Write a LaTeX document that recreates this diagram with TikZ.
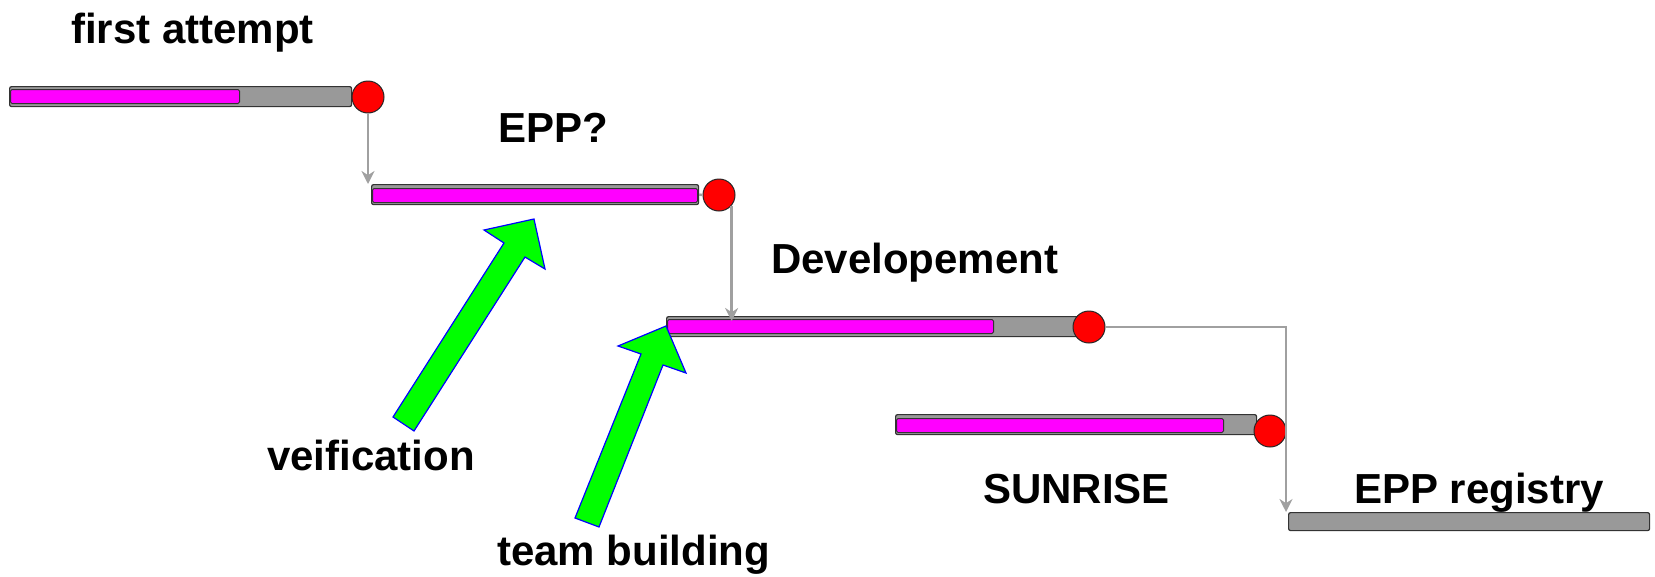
\documentclass[tikz,border=0pt]{standalone}
\usepackage{fontspec}
\setmainfont{Liberation Sans}
\usetikzlibrary{arrows.meta}
\definecolor{bargray}{HTML}{999999}
\definecolor{linegray}{HTML}{A0A0A0}
\definecolor{magbar}{HTML}{FF00FF}
\definecolor{greenarr}{HTML}{00FF00}
\tikzset{
  barbox/.style={draw=black!80, line width=1.2pt, fill=bargray, rounded corners=2pt, anchor=north west, inner sep=0pt, minimum height=20pt},
  magbox/.style={draw=black!80, line width=1pt, fill=magbar, rounded corners=1.5pt, anchor=north west, inner sep=0pt, minimum height=14pt},
  dot/.style={circle, draw=black!85, line width=1pt, fill=red, inner sep=0pt, minimum size=32pt},
  conn/.style={draw=linegray, line width=2.5pt, -{Stealth[length=13pt,width=13pt]}},
  plain/.style={draw=linegray, line width=2.5pt},
  label/.style={font=\fontsize{42}{50}\selectfont\bfseries, anchor=base west, inner sep=0pt},
  bigarrow/.style={draw=blue, line width=1.2pt, fill=greenarr, line join=miter}
}
\begin{document}
\begin{tikzpicture}[x=1pt,y=-1pt]
\useasboundingbox (0,0) rectangle (1655,576);
% bars
\node[barbox, minimum width=342pt] (bar1) at (9,86) {};
\node[magbox, minimum width=229pt] (mag1) at (10,89) {};
\node[dot] (c1) at (368,97) {};

\node[barbox, minimum width=327pt] (bar2) at (371,184) {};
\node[magbox, minimum width=325pt] (mag2) at (372,188) {};
\node[dot] (c2) at (719,195) {};

\node[barbox, minimum width=414pt] (bar3) at (666,316) {};
\node[magbox, minimum width=326pt] (mag3) at (667,319) {};
\node[dot] (c3) at (1089,327) {};

\node[barbox, minimum width=361pt] (bar4) at (895,414) {};
\node[magbox, minimum width=327pt] (mag4) at (896,418) {};
\node[dot] (c4) at (1270,431) {};

\node[barbox, minimum width=361pt, minimum height=18pt] (bar5) at (1288,512) {};

% connectors
\coordinate (t2) at (731,321);
\coordinate (t5) at (1286,512);
\draw[conn] (c1.south) -- (c1.south |- bar2.north);
\draw[plain] (bar2.east) -- (c2.west);
\draw[conn] (c2.-40) -- (c2.-40 |- t2);
\draw[conn] (c3.east) -| (t5);

% green arrows
\draw[bigarrow] (393,417) coordinate (a1) -- (504,243) -- (484,230) -- (534,219) -- (545,269) -- (525,257) -- (414,431) -- cycle;
\draw[bigarrow] (575,518) coordinate (a2) -- (641,354) -- (618,346) -- (666,326) -- (686,373) -- (663,365) -- (599,527) -- cycle;

% labels
\node[label] (l1) at (71,43) {first attempt};
\node[label] (l2) at (498,142) {EPP?};
\node[label] (l3) at (771,273) {Developement};
\node[label] (l4) at (267,470) {veification};
\node[label] (l5) at (497,565) {team building};
\node[label] (l6) at (983,503) {SUNRISE};
\node[label] (l7) at (1354,503) {EPP registry};
\end{tikzpicture}
\end{document}
